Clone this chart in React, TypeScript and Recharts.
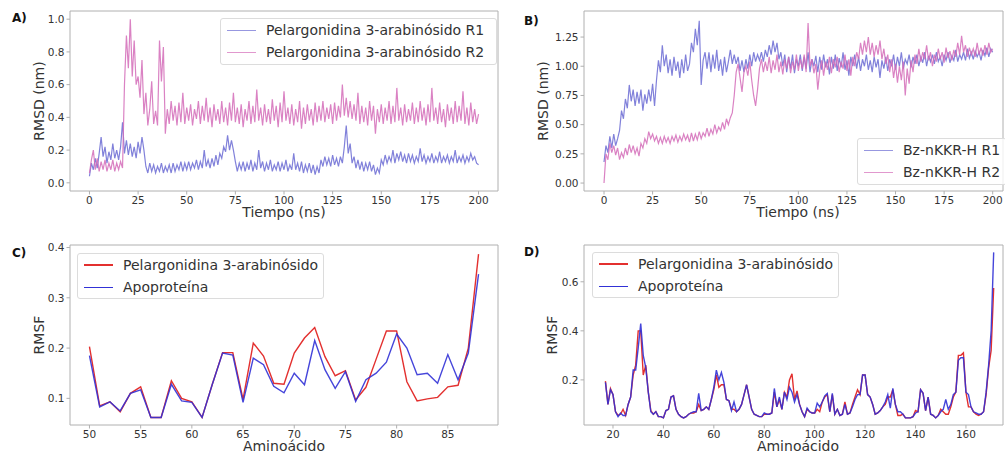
import {
  LineChart,
  Line,
  XAxis,
  YAxis,
  ReferenceArea,
} from "recharts";

// ---------------------------------------------------------------------------
// Data
// ---------------------------------------------------------------------------

// RMSD time series, one sample per ns from 0 to 200 ns
const TIME_STEP_NS = 1;

const rmsdA_R1 = [
  0.04, 0.12, 0.08, 0.15, 0.09, 0.18, 0.28, 0.16, 0.22, 0.12,
  0.19, 0.14, 0.24, 0.15, 0.2, 0.14, 0.22, 0.37, 0.18, 0.26,
  0.17, 0.24, 0.16, 0.22, 0.15, 0.25, 0.18, 0.28, 0.2, 0.1,
  0.06, 0.12, 0.07, 0.11, 0.06, 0.1, 0.07, 0.12, 0.06, 0.1,
  0.07, 0.11, 0.06, 0.12, 0.07, 0.11, 0.08, 0.13, 0.07, 0.12,
  0.08, 0.13, 0.08, 0.12, 0.09, 0.14, 0.08, 0.13, 0.09, 0.2,
  0.1, 0.14, 0.09, 0.15, 0.1, 0.17, 0.11, 0.18, 0.15, 0.22,
  0.19, 0.29, 0.2, 0.26, 0.2, 0.13, 0.07, 0.12, 0.08, 0.13,
  0.07, 0.12, 0.08, 0.14, 0.07, 0.12, 0.08, 0.2, 0.09, 0.13,
  0.07, 0.12, 0.08, 0.14, 0.07, 0.11, 0.08, 0.13, 0.07, 0.12,
  0.08, 0.14, 0.07, 0.11, 0.08, 0.18, 0.08, 0.12, 0.07, 0.13,
  0.06, 0.11, 0.07, 0.12, 0.06, 0.11, 0.05, 0.1, 0.06, 0.14,
  0.1, 0.16, 0.11, 0.15, 0.1, 0.17, 0.11, 0.15, 0.1, 0.16,
  0.12, 0.22, 0.35, 0.18, 0.24, 0.12, 0.16, 0.09, 0.14, 0.08,
  0.13, 0.07, 0.12, 0.08, 0.13, 0.07, 0.11, 0.05, 0.09, 0.06,
  0.14, 0.11, 0.17, 0.12, 0.16, 0.13, 0.2, 0.12, 0.18, 0.14,
  0.19, 0.13, 0.17, 0.12, 0.18, 0.13, 0.17, 0.12, 0.16, 0.13,
  0.21, 0.13, 0.17, 0.12, 0.16, 0.13, 0.18, 0.12, 0.16, 0.13,
  0.19, 0.12, 0.16, 0.13, 0.17, 0.12, 0.16, 0.13, 0.2, 0.12,
  0.16, 0.13, 0.17, 0.12, 0.16, 0.13, 0.18, 0.14, 0.16, 0.12,
  0.11,
];

const rmsdA_R2 = [
  0.06, 0.14, 0.2, 0.08, 0.15, 0.07, 0.13, 0.08, 0.14, 0.07,
  0.12, 0.08, 0.14, 0.07, 0.12, 0.08, 0.13, 0.09, 0.6, 0.9,
  0.7, 1.0, 0.65, 0.87, 0.6, 0.65, 0.52, 0.75, 0.42, 0.55,
  0.35, 0.45, 0.62, 0.36, 0.44, 0.35, 0.87, 0.62, 0.83, 0.3,
  0.45, 0.36, 0.5, 0.38, 0.47, 0.35, 0.49, 0.37, 0.55, 0.36,
  0.46, 0.38, 0.48, 0.35, 0.45, 0.39, 0.5, 0.36, 0.47, 0.38,
  0.52, 0.37, 0.46, 0.34, 0.48, 0.38, 0.45, 0.36, 0.5, 0.37,
  0.46, 0.35, 0.49, 0.38, 0.55, 0.37, 0.46, 0.36, 0.48, 0.34,
  0.45, 0.38, 0.5, 0.36, 0.47, 0.37, 0.57, 0.38, 0.46, 0.35,
  0.48, 0.37, 0.45, 0.36, 0.51, 0.38, 0.47, 0.34, 0.49, 0.37,
  0.56, 0.38, 0.46, 0.36, 0.48, 0.35, 0.45, 0.37, 0.5, 0.33,
  0.46, 0.36, 0.48, 0.38, 0.45, 0.35, 0.49, 0.37, 0.47, 0.38,
  0.5, 0.37, 0.46, 0.39, 0.48, 0.36, 0.49, 0.38, 0.47, 0.4,
  0.6, 0.41, 0.52, 0.4, 0.5, 0.39, 0.48, 0.38, 0.55, 0.36,
  0.47, 0.37, 0.46, 0.35, 0.5, 0.38, 0.47, 0.3, 0.45, 0.37,
  0.48, 0.36, 0.46, 0.38, 0.5, 0.36, 0.47, 0.37, 0.58, 0.38,
  0.46, 0.35, 0.48, 0.37, 0.45, 0.38, 0.49, 0.36, 0.46, 0.37,
  0.5, 0.38, 0.46, 0.35, 0.48, 0.37, 0.58, 0.38, 0.46, 0.36,
  0.49, 0.37, 0.45, 0.34, 0.48, 0.38, 0.46, 0.36, 0.5, 0.37,
  0.47, 0.38, 0.56, 0.36, 0.46, 0.35, 0.49, 0.37, 0.45, 0.36,
  0.42,
];

const rmsdB_R1 = [
  0.18, 0.32, 0.26, 0.4, 0.3, 0.42, 0.32, 0.38, 0.45, 0.62,
  0.55, 0.72, 0.64, 0.84, 0.7, 0.8, 0.66, 0.78, 0.68, 0.8,
  0.62, 0.76, 0.68, 0.8, 0.7, 0.85, 0.66, 0.88, 1.05, 0.95,
  1.18, 1.0, 1.1, 0.94, 1.06, 0.92, 1.08, 0.96, 1.04, 0.9,
  1.06, 0.94, 1.1, 0.96, 1.02, 1.2, 1.12, 1.32, 1.18, 1.39,
  0.84, 1.05, 1.12, 0.98, 1.12, 0.95, 1.1, 0.98, 1.14, 0.96,
  1.06, 0.92, 1.08, 0.95, 1.04, 1.14, 1.02, 1.1, 1.02, 1.08,
  0.96, 1.05, 0.95, 1.06, 0.98, 1.1, 1.0, 1.12, 1.04, 1.1,
  1.05, 1.12, 1.04, 1.14, 1.08, 1.18, 1.1, 1.22, 1.12, 1.2,
  1.06, 1.12, 1.0, 1.1, 0.95, 1.08, 0.98, 1.1, 0.94, 1.06,
  1.0, 1.1, 0.96, 1.08, 0.98, 1.12, 0.95, 1.06, 1.0, 1.09,
  0.95, 1.08, 0.97, 1.1, 0.99, 1.06, 0.93, 1.08, 0.98, 1.1,
  0.96, 1.07, 0.99, 1.12, 0.97, 1.05, 0.92, 1.08, 1.0, 1.1,
  0.98, 1.08, 0.96, 1.06, 1.0, 1.1, 0.97, 1.05, 0.95, 1.08,
  0.99, 1.06, 0.9, 1.05, 0.98, 1.08, 0.96, 1.06, 1.0, 1.1,
  0.97, 1.08, 1.0, 1.12, 0.98, 1.06, 1.02, 1.1, 0.99, 1.08,
  1.02, 1.1, 1.0, 1.08, 1.03, 1.12, 1.0, 1.09, 1.04, 1.1,
  1.02, 1.12, 1.04, 1.08, 1.0, 1.1, 1.05, 1.12, 1.03, 1.09,
  1.05, 1.14, 1.04, 1.1, 1.06, 1.12, 1.05, 1.15, 1.07, 1.12,
  1.06, 1.13, 1.08, 1.12, 1.05, 1.14, 1.09, 1.16, 1.08, 1.15,
  1.12,
];

const rmsdB_R2 = [
  0.0, 0.25, 0.2, 0.34, 0.26, 0.32, 0.24, 0.3, 0.2, 0.26,
  0.22, 0.3, 0.24, 0.33, 0.26, 0.32, 0.25, 0.3, 0.23, 0.34,
  0.3, 0.38, 0.34, 0.44, 0.38, 0.42, 0.36, 0.4, 0.34, 0.39,
  0.34, 0.4, 0.35, 0.39, 0.34, 0.4, 0.36, 0.41, 0.35, 0.4,
  0.36, 0.42, 0.37, 0.41, 0.35, 0.43, 0.36, 0.42, 0.37, 0.44,
  0.38, 0.43, 0.4, 0.47, 0.4, 0.46, 0.42, 0.5, 0.43, 0.48,
  0.45, 0.52, 0.46, 0.55, 0.5, 0.56, 0.6, 0.75, 0.95, 1.02,
  0.9, 0.78, 0.95, 1.0, 0.92, 1.04, 0.88, 0.75, 0.66, 0.8,
  0.98, 1.06, 0.95, 1.04, 0.96, 1.08, 0.94, 1.05, 0.97, 1.1,
  0.95, 1.04, 0.93, 1.06, 0.98, 1.08, 0.94, 1.04, 0.97, 1.1,
  0.96, 1.06, 0.98, 1.1, 0.95, 1.37, 1.0, 1.06, 0.94, 1.02,
  0.8, 0.96, 1.05, 0.92, 1.04, 0.97, 1.08, 0.94, 1.06, 0.99,
  1.08, 0.95, 1.04, 0.98, 1.1, 0.96, 1.06, 0.92, 1.08, 1.0,
  1.12, 1.06, 1.2, 1.1, 1.22, 1.12, 1.25, 1.1, 1.2, 1.08,
  1.18, 1.1, 1.22, 1.06, 1.15, 1.02, 1.1, 0.95, 1.06, 0.9,
  1.02, 0.86, 1.0, 0.88, 1.04, 0.75, 0.98, 0.85, 1.05, 0.95,
  1.1, 1.02, 1.15, 1.04, 1.12, 1.06, 1.18, 1.05, 1.12, 1.0,
  1.1, 1.04, 1.15, 1.06, 1.12, 1.03, 1.16, 1.07, 1.13, 1.05,
  1.14, 1.08, 1.2, 1.1, 1.26, 1.12, 1.18, 1.08, 1.16, 1.1,
  1.15, 1.08, 1.2, 1.1, 1.16, 1.09, 1.18, 1.1, 1.2, 1.12,
  1.15,
];

// RMSF per residue, panel C (residues 50..88)
const residuesC = [
  50, 51, 52, 53, 54, 55, 56, 57, 58, 59, 60, 61, 62, 63, 64, 65, 66, 67, 68, 69,
  70, 71, 72, 73, 74, 75, 76, 77, 78, 79, 80, 81, 82, 83, 84, 85, 86, 87, 88,
];
const rmsfC_ligand = [
  0.203, 0.085, 0.093, 0.073, 0.11, 0.123, 0.062, 0.062, 0.135, 0.1,
  0.093, 0.062, 0.128, 0.191, 0.191, 0.098, 0.21, 0.184, 0.13, 0.128,
  0.19, 0.22, 0.241, 0.183, 0.145, 0.155, 0.097, 0.122, 0.178, 0.234,
  0.234, 0.133, 0.095, 0.099, 0.102, 0.123, 0.126, 0.2, 0.387,
];
const rmsfC_apo = [
  0.185, 0.083, 0.093, 0.075, 0.11, 0.117, 0.062, 0.062, 0.128, 0.095,
  0.092, 0.062, 0.128, 0.19, 0.186, 0.092, 0.18, 0.167, 0.124, 0.111,
  0.15, 0.127, 0.215, 0.157, 0.12, 0.153, 0.094, 0.137, 0.15, 0.172,
  0.228, 0.2, 0.147, 0.15, 0.13, 0.187, 0.137, 0.19, 0.347,
];

// RMSF per residue, panel D (residues 17..171)
const FIRST_RESIDUE_D = 17;
const rmsfD_ligand = [
  0.195, 0.1, 0.165, 0.14, 0.07, 0.055, 0.06, 0.08, 0.055, 0.1,
  0.13, 0.22, 0.26, 0.4, 0.4, 0.22, 0.26, 0.15, 0.075, 0.06,
  0.07, 0.05, 0.05, 0.045, 0.075, 0.08, 0.13, 0.135, 0.08, 0.06,
  0.05, 0.045, 0.05, 0.06, 0.065, 0.065, 0.07, 0.1, 0.075, 0.08,
  0.09, 0.08, 0.12, 0.16, 0.22, 0.17, 0.18, 0.18, 0.12, 0.115,
  0.08, 0.08, 0.07, 0.08, 0.1, 0.14, 0.18, 0.13, 0.08, 0.06,
  0.055, 0.05, 0.05, 0.06, 0.06, 0.06, 0.065, 0.15, 0.09, 0.12,
  0.08, 0.15, 0.13, 0.2, 0.225, 0.12, 0.155, 0.1, 0.07, 0.05,
  0.08, 0.07, 0.065, 0.065, 0.08, 0.07, 0.11, 0.13, 0.14, 0.07,
  0.14, 0.06, 0.08, 0.055, 0.06, 0.11, 0.06, 0.065, 0.1, 0.13,
  0.16, 0.14, 0.22, 0.22, 0.14, 0.13, 0.1, 0.06, 0.065, 0.075,
  0.09, 0.1, 0.13, 0.13, 0.16, 0.1, 0.055, 0.055, 0.06, 0.045,
  0.045, 0.045, 0.05, 0.075, 0.07, 0.16, 0.145, 0.075, 0.13, 0.06,
  0.055, 0.045, 0.055, 0.08, 0.07, 0.06, 0.06, 0.09, 0.13, 0.15,
  0.3, 0.3, 0.31, 0.15, 0.09, 0.09, 0.07, 0.06, 0.055, 0.06,
  0.07, 0.14, 0.25, 0.32, 0.575,
];
const rmsfD_apo = [
  0.19, 0.1, 0.16, 0.14, 0.07, 0.05, 0.065, 0.055, 0.055, 0.1,
  0.13, 0.24, 0.24, 0.33, 0.43, 0.3, 0.25, 0.15, 0.07, 0.06,
  0.07, 0.05, 0.05, 0.045, 0.075, 0.08, 0.13, 0.135, 0.08, 0.06,
  0.05, 0.045, 0.05, 0.06, 0.065, 0.07, 0.07, 0.145, 0.075, 0.08,
  0.09, 0.08, 0.12, 0.17, 0.24, 0.2, 0.23, 0.19, 0.12, 0.115,
  0.075, 0.11, 0.07, 0.08, 0.1, 0.14, 0.18, 0.13, 0.08, 0.06,
  0.055, 0.05, 0.05, 0.065, 0.06, 0.06, 0.065, 0.165, 0.09, 0.13,
  0.08, 0.15, 0.12, 0.17, 0.15, 0.11, 0.14, 0.1, 0.07, 0.05,
  0.085, 0.07, 0.065, 0.065, 0.105, 0.09, 0.11, 0.135, 0.145, 0.07,
  0.145, 0.06, 0.08, 0.055, 0.06, 0.1, 0.06, 0.065, 0.09, 0.12,
  0.14, 0.14, 0.22, 0.22, 0.14, 0.13, 0.1, 0.06, 0.065, 0.075,
  0.09, 0.11, 0.14, 0.085, 0.165, 0.1, 0.07, 0.07, 0.06, 0.045,
  0.045, 0.045, 0.05, 0.065, 0.07, 0.16, 0.145, 0.075, 0.13, 0.06,
  0.055, 0.045, 0.055, 0.07, 0.08, 0.12, 0.08, 0.1, 0.14, 0.15,
  0.28, 0.29, 0.29, 0.15, 0.14, 0.09, 0.07, 0.065, 0.06, 0.06,
  0.07, 0.15, 0.26, 0.4, 0.72,
];

// Tick labels
const timeTicks = [0, 25, 50, 75, 100, 125, 150, 175, 200];
const rmsdTicksA = [0, 0.2, 0.4, 0.6, 0.8, 1.0];
const rmsdTicksB = [0, 0.25, 0.5, 0.75, 1.0, 1.25];
const residueTicksC = [50, 55, 60, 65, 70, 75, 80, 85];
const rmsfTicksC = [0.1, 0.2, 0.3, 0.4];
const residueTicksD = [20, 40, 60, 80, 100, 120, 140, 160];
const rmsfTicksD = [0.2, 0.4, 0.6];

// Series names
const namesA = ["Pelargonidina 3-arabinósido R1", "Pelargonidina 3-arabinósido R2"];
const namesB = ["Bz-nKKR-H R1", "Bz-nKKR-H R2"];
const namesRmsf = ["Pelargonidina 3-arabinósido", "Apoproteína"];

// ---------------------------------------------------------------------------
// Styling
// ---------------------------------------------------------------------------

const FONT = "'DejaVu Sans', sans-serif";
const R1_COLOR = "#6b6bd3";
const R2_COLOR = "#d46cb9";
const RED = "#e3302f";
const BLUE = "#3131d6";
const SPINE = "#b0b0b0";
const MD_WIDTH = 1.2;

const tickStyle = { fontSize: 10.5, fill: "#333", fontFamily: FONT };

// ---------------------------------------------------------------------------
// Build tables
// ---------------------------------------------------------------------------

const dataA = rmsdA_R1.map((v, i) => ({ t: i * TIME_STEP_NS, r1: v, r2: rmsdA_R2[i] }));
const dataB = rmsdB_R1.map((v, i) => ({ t: i * TIME_STEP_NS, r1: v, r2: rmsdB_R2[i] }));
const dataC = residuesC.map((r, i) => ({ res: r, lig: rmsfC_ligand[i], apo: rmsfC_apo[i] }));
const dataD = rmsfD_ligand.map((v, i) => ({ res: FIRST_RESIDUE_D + i, lig: v, apo: rmsfD_apo[i] }));

// ---------------------------------------------------------------------------
// Legend box (matplotlib-like)
// ---------------------------------------------------------------------------

interface LegendProps {
  x: number;
  y: number;
  w: number;
  h: number;
  items: { label: string; color: string }[];
  lineW: number;
  lineOpacity: number;
}

function LegendBox({ x, y, w, h, items, lineW, lineOpacity }: LegendProps) {
  return (
    <div
      style={{
        position: "absolute",
        left: x,
        top: y,
        width: w,
        height: h,
        boxSizing: "border-box",
        border: "1px solid #dcdcdc",
        borderRadius: 3,
        background: "rgba(255,255,255,0.8)",
        fontFamily: FONT,
        fontSize: 14,
        color: "#333",
      }}
    >
      {items.map((it, i) => (
        <div
          key={it.label}
          style={{
            position: "absolute",
            left: 6,
            top: 1 + i * 22.4,
            height: 20,
            display: "flex",
            alignItems: "center",
            whiteSpace: "nowrap",
          }}
        >
          <span
            style={{
              display: "inline-block",
              width: 29,
              height: lineW,
              background: it.color,
              opacity: lineOpacity,
              marginRight: 10,
            }}
          />
          <span>{it.label}</span>
        </div>
      ))}
    </div>
  );
}

// ---------------------------------------------------------------------------
// App
// ---------------------------------------------------------------------------

const domA = { x: [-10, 210], y: [-0.05, 1.05] };
const domB = { x: [-10.3, 205.3], y: [-0.068, 1.473] };
const domC = { x: [48.1, 89.9], y: [0.047, 0.405] };
const domD = { x: [8.5, 174.7], y: [0.016, 0.75] };

function Frame({ d }: { d: { x: number[]; y: number[] } }) {
  return (
    <ReferenceArea
      x1={d.x[0]}
      x2={d.x[1]}
      y1={d.y[0]}
      y2={d.y[1]}
      fill="none"
      stroke={SPINE}
      strokeWidth={1}
      ifOverflow="visible"
    />
  );
}

export default function App() {
  const titleStyle = { fontFamily: FONT, fontSize: 14, fill: "#333" };
  const panelStyle = { fontFamily: FONT, fontSize: 12, fontWeight: 700, fill: "#111" };

  return (
    <div style={{ position: "absolute", left: 0, top: 0, width: 1005, height: 454, background: "#fff", overflow: "hidden" }}>
      {/* A) */}
      <div style={{ position: "absolute", left: 0, top: 0 }}>
        <LineChart width={505} height={230} data={dataA} margin={{ top: 11, right: 7, left: 0, bottom: 0 }}>
          <XAxis type="number" dataKey="t" domain={domA.x} ticks={timeTicks} interval={0} allowDataOverflow
            axisLine={false} tickSize={3.5} tickMargin={2} tickLine={{ stroke: SPINE }} tick={tickStyle} height={39} />
          <YAxis type="number" domain={domA.y} ticks={rmsdTicksA} interval={0} allowDataOverflow
            tickFormatter={(v: number) => v.toFixed(1)} axisLine={false} tickSize={3.5} tickMargin={2}
            tickLine={{ stroke: SPINE }} tick={tickStyle} width={70} />
          <Line type="linear" dataKey="r1" stroke={R1_COLOR} strokeWidth={MD_WIDTH} strokeOpacity={0.85} dot={false} isAnimationActive={false} />
          <Line type="linear" dataKey="r2" stroke={R2_COLOR} strokeWidth={MD_WIDTH} strokeOpacity={0.85} dot={false} isAnimationActive={false} />
          <Frame d={domA} />
        </LineChart>
      </div>

      {/* B) */}
      <div style={{ position: "absolute", left: 500, top: 0 }}>
        <LineChart width={505} height={230} data={dataB} margin={{ top: 11, right: 2, left: 0, bottom: 0 }}>
          <XAxis type="number" dataKey="t" domain={domB.x} ticks={timeTicks} interval={0} allowDataOverflow
            axisLine={false} tickSize={3.5} tickMargin={2} tickLine={{ stroke: SPINE }} tick={tickStyle} height={39} />
          <YAxis type="number" domain={domB.y} ticks={rmsdTicksB} interval={0} allowDataOverflow
            tickFormatter={(v: number) => v.toFixed(2)} axisLine={false} tickSize={3.5} tickMargin={2}
            tickLine={{ stroke: SPINE }} tick={tickStyle} width={84} />
          <Line type="linear" dataKey="r1" stroke={R1_COLOR} strokeWidth={MD_WIDTH} strokeOpacity={0.85} dot={false} isAnimationActive={false} />
          <Line type="linear" dataKey="r2" stroke={R2_COLOR} strokeWidth={MD_WIDTH} strokeOpacity={0.85} dot={false} isAnimationActive={false} />
          <Frame d={domB} />
        </LineChart>
      </div>

      {/* C) */}
      <div style={{ position: "absolute", left: 0, top: 225 }}>
        <LineChart width={505} height={229} data={dataC} margin={{ top: 20, right: 7, left: 0, bottom: 0 }}>
          <XAxis type="number" dataKey="res" domain={domC.x} ticks={residueTicksC} interval={0} allowDataOverflow
            axisLine={false} tickSize={3.5} tickMargin={2} tickLine={{ stroke: SPINE }} tick={tickStyle} height={29} />
          <YAxis type="number" domain={domC.y} ticks={rmsfTicksC} interval={0} allowDataOverflow
            tickFormatter={(v: number) => v.toFixed(1)} axisLine={false} tickSize={3.5} tickMargin={2}
            tickLine={{ stroke: SPINE }} tick={tickStyle} width={70} />
          <Line type="linear" dataKey="lig" stroke={RED} strokeWidth={1.4} dot={false} isAnimationActive={false} />
          <Line type="linear" dataKey="apo" stroke={BLUE} strokeWidth={1.4} strokeOpacity={0.9} dot={false} isAnimationActive={false} />
          <Frame d={domC} />
        </LineChart>
      </div>

      {/* D) */}
      <div style={{ position: "absolute", left: 500, top: 225 }}>
        <LineChart width={505} height={229} data={dataD} margin={{ top: 20, right: 2, left: 0, bottom: 0 }}>
          <XAxis type="number" dataKey="res" domain={domD.x} ticks={residueTicksD} interval={0} allowDataOverflow
            axisLine={false} tickSize={3.5} tickMargin={2} tickLine={{ stroke: SPINE }} tick={tickStyle} height={29} />
          <YAxis type="number" domain={domD.y} ticks={rmsfTicksD} interval={0} allowDataOverflow
            tickFormatter={(v: number) => v.toFixed(1)} axisLine={false} tickSize={3.5} tickMargin={2}
            tickLine={{ stroke: SPINE }} tick={tickStyle} width={84} />
          <Line type="linear" dataKey="lig" stroke={RED} strokeWidth={1.4} dot={false} isAnimationActive={false} />
          <Line type="linear" dataKey="apo" stroke={BLUE} strokeWidth={1.4} strokeOpacity={0.9} dot={false} isAnimationActive={false} />
          <Frame d={domD} />
        </LineChart>
      </div>

      {/* Panel letters and axis titles */}
      <svg width={1005} height={454} style={{ position: "absolute", left: 0, top: 0, pointerEvents: "none" }}>
        <text x={12} y={22} style={panelStyle}>A)</text>
        <text x={524} y={25} style={panelStyle}>B)</text>
        <text x={12} y={257} style={panelStyle}>C)</text>
        <text x={524} y={256} style={panelStyle}>D)</text>

        <text x={39} y={101} textAnchor="middle" dominantBaseline="central" transform="rotate(-90, 39, 101)" style={titleStyle}>RMSD (nm)</text>
        <text x={284} y={212} textAnchor="middle" dominantBaseline="central" style={titleStyle}>Tiempo (ns)</text>

        <text x={543} y={101} textAnchor="middle" dominantBaseline="central" transform="rotate(-90, 543, 101)" style={titleStyle}>RMSD (nm)</text>
        <text x={798} y={212} textAnchor="middle" dominantBaseline="central" style={titleStyle}>Tiempo (ns)</text>

        <text x={39} y={335} textAnchor="middle" dominantBaseline="central" transform="rotate(-90, 39, 335)" style={titleStyle}>RMSF</text>
        <text x={284} y={446} textAnchor="middle" dominantBaseline="central" style={titleStyle}>Aminoácido</text>

        <text x={552} y={335} textAnchor="middle" dominantBaseline="central" transform="rotate(-90, 552, 335)" style={titleStyle}>RMSF</text>
        <text x={798} y={446} textAnchor="middle" dominantBaseline="central" style={titleStyle}>Aminoácido</text>
      </svg>

      <LegendBox x={220} y={18} w={277} h={47} lineW={1} lineOpacity={0.7}
        items={[{ label: namesA[0], color: R1_COLOR }, { label: namesA[1], color: R2_COLOR }]} />
      <LegendBox x={857} y={138} w={150} h={47} lineW={1} lineOpacity={0.7}
        items={[{ label: namesB[0], color: R1_COLOR }, { label: namesB[1], color: R2_COLOR }]} />
      <LegendBox x={77} y={253} w={247} h={46} lineW={1.5} lineOpacity={1}
        items={[{ label: namesRmsf[0], color: RED }, { label: namesRmsf[1], color: BLUE }]} />
      <LegendBox x={592} y={252} w={247} h={46} lineW={1.5} lineOpacity={1}
        items={[{ label: namesRmsf[0], color: RED }, { label: namesRmsf[1], color: BLUE }]} />
    </div>
  );
}
